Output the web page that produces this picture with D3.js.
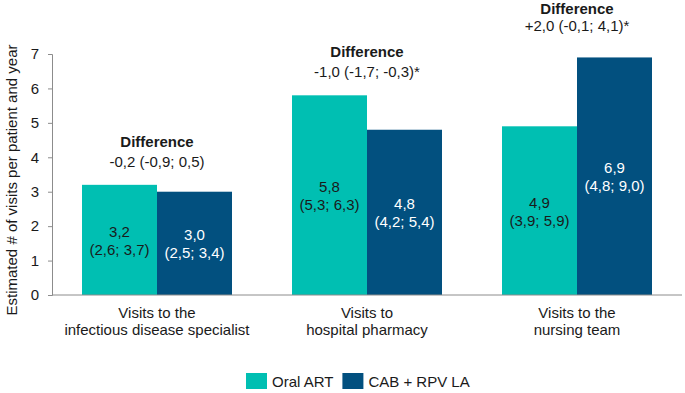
<!DOCTYPE html>
<html>
<head>
<meta charset="utf-8">
<script src="https://cdn.jsdelivr.net/npm/d3@7"></script>
<style>
  body { margin: 0; background: #fff; }
  svg { font-family: Arial, "Liberation Sans", sans-serif; }
</style>
</head>
<body>
<div class="chart"></div>
<script>
// data
const categories = [
    ["Visits to the", "infectious disease specialist"],
    ["Visits to", "hospital pharmacy"],
    ["Visits to the", "nursing team"]
];
const seriesNames = ["Oral ART", "CAB + RPV LA"];
const oralValues = [3.2, 5.8, 4.9];
const oralCI = ["(2,6; 3,7)", "(5,3; 6,3)", "(3,9; 5,9)"];
const labValues = [3.0, 4.8, 6.9];
const labCI = ["(2,5; 3,4)", "(4,2; 5,4)", "(4,8; 9,0)"];
const differences = ["-0,2 (-0,9; 0,5)", "-1,0 (-1,7; -0,3)*", "+2,0 (-0,1; 4,1)*"];
const yTicks = [0, 1, 2, 3, 4, 5, 6, 7];

const colors = ["#00bfb2", "#02507f"];
const width = 685, height = 393;

const svg = d3.select(".chart").append("svg")
    .attr("width", width)
    .attr("height", height);

const x = d3.scaleBand()
    .domain(d3.range(categories.length))
    .range([52, 682])
    .paddingInner(2 / 7)
    .paddingOuter(1 / 7);

const sub = d3.scaleBand()
    .domain([0, 1])
    .range([0, x.bandwidth()]);

const y = d3.scaleLinear()
    .domain([0, 7])
    .range([295, 54]);

const fmt = v => v.toFixed(1).replace(".", ",");

// bars
const bars = [];
categories.forEach((c, i) => {
    bars.push({ cat: i, s: 0, v: oralValues[i], ci: oralCI[i] });
    bars.push({ cat: i, s: 1, v: labValues[i], ci: labCI[i] });
});

svg.selectAll("rect.bar")
    .data(bars)
    .enter().append("rect")
    .attr("class", "bar")
    .attr("x", d => x(d.cat) + sub(d.s))
    .attr("y", d => y(d.v))
    .attr("width", sub.bandwidth())
    .attr("height", d => y(0) - y(d.v))
    .attr("fill", d => colors[d.s]);

// labels inside bars
const inner = svg.selectAll("text.val")
    .data(bars)
    .enter().append("text")
    .attr("class", "val")
    .attr("text-anchor", "middle")
    .attr("font-size", 15)
    .attr("fill", d => d.s === 0 ? "#1a1a1a" : "#fff");
inner.append("tspan")
    .attr("x", d => x(d.cat) + sub(d.s) + sub.bandwidth() / 2)
    .attr("y", d => (y(d.v) + y(0)) / 2 - 3)
    .text(d => fmt(d.v));
inner.append("tspan")
    .attr("x", d => x(d.cat) + sub(d.s) + sub.bandwidth() / 2)
    .attr("y", d => (y(d.v) + y(0)) / 2 + 15)
    .text(d => d.ci);

// difference annotations (pinned to the top edge when the bar is tall)
categories.forEach((c, i) => {
    const top = y(Math.max(oralValues[i], labValues[i]));
    let base1 = top - 38, base2 = top - 18;
    if (base1 < 30) { base1 = 14; base2 = 31; }
    const cx = x(i) + x.bandwidth() / 2;
    svg.append("text")
        .attr("x", cx).attr("y", base1)
        .attr("text-anchor", "middle")
        .attr("font-size", 15).attr("font-weight", "bold")
        .attr("fill", "#1a1a1a")
        .text("Difference");
    svg.append("text")
        .attr("x", cx).attr("y", base2)
        .attr("text-anchor", "middle")
        .attr("font-size", 15)
        .attr("fill", "#1a1a1a")
        .text(differences[i]);
});

// y axis
const yAxis = svg.append("g")
    .attr("transform", "translate(52,0)")
    .call(d3.axisLeft(y).tickValues(yTicks).tickSize(4).tickPadding(9).tickFormat(d3.format("d")));
yAxis.select(".domain").attr("stroke", "#8c8c8c");
yAxis.selectAll(".tick line").attr("stroke", "#8c8c8c");
yAxis.selectAll("text")
    .attr("font-size", 15)
    .attr("font-family", "Arial, 'Liberation Sans', sans-serif")
    .attr("fill", "#1a1a1a");

// baseline
svg.append("line")
    .attr("x1", 52).attr("x2", 682)
    .attr("y1", y(0)).attr("y2", y(0))
    .attr("stroke", "#8c8c8c");

// y title
svg.append("text")
    .attr("transform", `translate(17,180) rotate(-90)`)
    .attr("text-anchor", "middle")
    .attr("font-size", 15)
    .attr("fill", "#1a1a1a")
    .text("Estimated # of visits per patient and year");

// category labels
categories.forEach((c, i) => {
    const cx = x(i) + x.bandwidth() / 2;
    c.forEach((line, j) => {
        svg.append("text")
            .attr("x", cx)
            .attr("y", 318 + j * 17)
            .attr("text-anchor", "middle")
            .attr("font-size", 15)
            .attr("fill", "#1a1a1a")
            .text(line);
    });
});

// legend
const legend = svg.append("g").attr("transform", "translate(246,373)");
let lx = 0;
seriesNames.forEach((name, i) => {
    legend.append("rect")
        .attr("x", lx).attr("y", 0)
        .attr("width", 21).attr("height", 16)
        .attr("fill", colors[i]);
    const t = legend.append("text")
        .attr("x", lx + 26).attr("y", 14)
        .attr("font-size", 15)
        .attr("fill", "#1a1a1a")
        .text(name);
    lx += 26 + t.node().getComputedTextLength() + 9;
});
</script>
</body>
</html>
